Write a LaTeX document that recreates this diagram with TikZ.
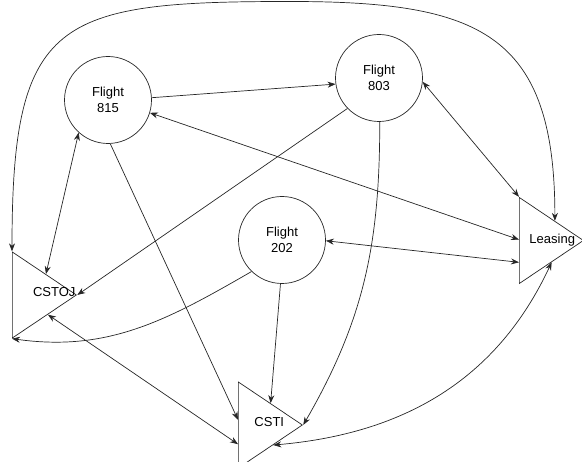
\documentclass[tikz,border=0pt]{standalone}
\usepackage{fontspec}
\setmainfont{Liberation Sans}
\usepackage{tikz}
\usetikzlibrary{arrows.meta}
\usetikzlibrary{shapes.geometric}
\usetikzlibrary{calc}

\tikzset{
  flight/.style={draw, circle, minimum size=87pt, inner sep=0pt, align=center},
  unit/.style={draw, isosceles triangle, isosceles triangle stretches,
    shape border rotate=0, minimum height=64pt, minimum width=86pt,
    inner sep=0pt, anchor=lower side},
  link/.style={-{Stealth[length=8pt,width=6pt]}},
  both/.style={{Stealth[length=8pt,width=6pt]}-{Stealth[length=8pt,width=6pt]}}
}

\begin{document}
\begin{tikzpicture}[x=1pt,y=1pt,line width=0.7pt,draw=black!85,
    font=\fontsize{13}{16}\selectfont]
    \useasboundingbox (0,0) rectangle (582,462);
    \node[flight] (f815) at (108,362) {Flight\\815};
    \node[flight] (f803) at (379,384) {Flight\\803};
    \node[flight] (f202) at (282,222) {Flight\\202};
    \node[unit,label={[xshift=10pt]center:Leasing}] (leas) at (519,221.5) {};
    \node[unit,label={[xshift=19pt,yshift=3pt]center:CSTOJ}] (cstoj) at (12,167) {};
    \node[unit,label={[xshift=8pt,yshift=3pt]center:CSTI}] (csti) at (238,37) {};
    \coordinate (top) at (290,460.5);
    % flights
    \draw[link] (f815.3) -- (f803.188);
    \draw[both] (f815.343) -- ($(leas.left corner)!0.49!(leas.right corner)$);
    \draw[both] (f803.355) -- (leas.left corner);
    \draw[link] (f803.224) -- (cstoj.apex);
    \draw[link] (f803.271)
      to [out=-90,in=60] (csti.apex);
    \draw[both] (f815.228) -- ($(cstoj.left corner)!0.52!(cstoj.apex)$);
    \draw[link] (f815.273) -- ($(csti.left corner)!0.44!(csti.right corner)$);
    \draw[both] (f202.-1) -- ($(leas.left corner)!0.75!(leas.right corner)$);
    \draw[link] (f202.226)
      to [out=210,in=-8] (cstoj.right corner);
    \draw[link] (f202.268) -- ($(csti.left corner)!0.5!(csti.apex)$);
    % units
    \draw[both] ($(cstoj.right corner)!0.55!(cstoj.apex)$)
      -- ($(csti.left corner)!0.72!(csti.right corner)$);
    \draw[both] ($(csti.right corner)!0.54!(csti.apex)$)
      to [out=5,in=245] ($(leas.right corner)!0.5!(leas.apex)$);
    \draw[both] (cstoj.left corner)
      to [out=90,in=180,looseness=1.6] (top)
      to [out=0,in=90,looseness=1.4] ($(leas.left corner)!0.55!(leas.apex)$);
\end{tikzpicture}
\end{document}
